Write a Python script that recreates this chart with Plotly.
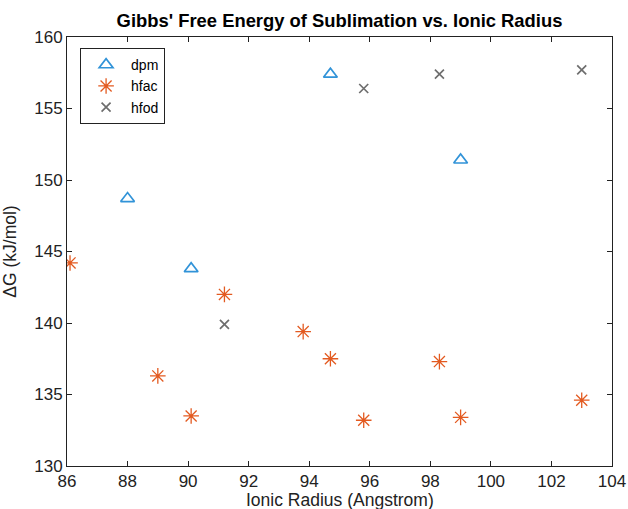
import plotly.graph_objects as go

dpm_x = [88.0, 90.1, 94.7, 99.0]
dpm_y = [148.7, 143.8, 157.4, 151.4]

hfac_x = [86.1, 89.0, 90.1, 91.2, 93.8, 94.7, 95.8, 98.3, 99.0, 103.0]
hfac_y = [144.2, 136.3, 133.5, 142.0, 139.4, 137.5, 133.2, 137.3, 133.4, 134.6]

hfod_x = [91.2, 95.8, 98.3, 103.0]
hfod_y = [139.9, 156.4, 157.4, 157.7]

x_ticks = [86, 88, 90, 92, 94, 96, 98, 100, 102, 104]
y_ticks = [130, 135, 140, 145, 150, 155, 160]

FONT = "Liberation Sans, Arial, Helvetica, sans-serif"

fig = go.Figure()
fig.add_trace(go.Scatter(
    x=dpm_x, y=dpm_y, mode="markers", name="dpm",
    marker=dict(symbol="triangle-up-open", size=12, color="#3193D8",
                line=dict(width=1.7, color="#3193D8")),
))
fig.add_trace(go.Scatter(
    x=hfac_x, y=hfac_y, mode="markers", name="hfac",
    marker=dict(symbol="asterisk-open", size=13, color="#E35A20",
                line=dict(width=1.3, color="#E35A20")),
))
fig.add_trace(go.Scatter(
    x=hfod_x, y=hfod_y, mode="markers", name="hfod",
    marker=dict(symbol="x-thin-open", size=9, color="#6E6E6E",
                line=dict(width=1.7, color="#6E6E6E")),
))

axis_common = dict(
    showline=True, linecolor="#222", linewidth=1, mirror="ticks",
    ticks="inside", ticklen=5, tickcolor="#222", tickwidth=1,
    showgrid=False, zeroline=False, automargin=False,
    tickfont=dict(family=FONT, size=17, color="#222"),
)

fig.update_layout(
    width=628, height=509,
    margin=dict(l=67, r=16, t=37, b=43),
    paper_bgcolor="white", plot_bgcolor="white",
    title=dict(text="<b>Gibbs' Free Energy of Sublimation vs. Ionic Radius</b>",
               xref="paper", x=0.5, xanchor="center",
               yref="container", y=0.959, yanchor="middle",
               font=dict(family=FONT, size=18.4, color="black")),
    xaxis=dict(range=[86, 104], tickvals=x_ticks, **axis_common),
    yaxis=dict(range=[130, 160], tickvals=y_ticks,
               title=dict(text="ΔG (kJ/mol)",
                          font=dict(family=FONT, size=17.5, color="#222")),
               **axis_common),
    legend=dict(x=0.024, y=0.974, xanchor="left", yanchor="top",
                bordercolor="#222", borderwidth=1, bgcolor="white",
                font=dict(family=FONT, size=14, color="black"),
                tracegroupgap=0, itemwidth=40),
    showlegend=True,
    annotations=[dict(
        text="Ionic Radius (Angstrom)", xref="paper", yref="paper",
        x=0.5, y=-0.079, xanchor="center", yanchor="middle",
        showarrow=False, font=dict(family=FONT, size=17.5, color="#222"),
    )],
)

fig.write_html("out.html", config={"displayModeBar": False},
               post_script="document.body.style.margin='0';")
